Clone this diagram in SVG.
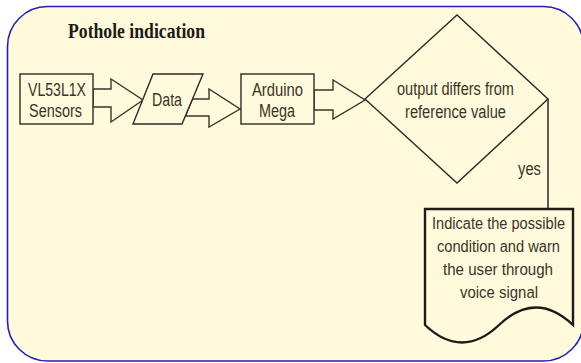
<svg xmlns="http://www.w3.org/2000/svg" width="581" height="363" viewBox="0 0 581 363">
<style>
.shape{fill:#fffadc;stroke:#2e2a24;stroke-width:1.4}
.doc{fill:#fffadc;stroke:#1e1a16;stroke-width:2.4}
.conn{fill:#fffadc;stroke:#3a342a;stroke-width:1.4;stroke-linejoin:miter}
.line{fill:none;stroke:#1a1a1a;stroke-width:1.4}
.t{font-family:"Liberation Sans",Arial,sans-serif;font-size:18px;fill:#3b3428}
.td{font-family:"Liberation Sans",Arial,sans-serif;font-size:16px;fill:#3b3428}
.title{font-family:"Liberation Serif","Times New Roman",serif;font-size:22px;font-weight:bold;fill:#1e1a16}
</style>
<rect x="0" y="0" width="581" height="363" fill="#ffffff"/>
<rect id="frame" x="7.5" y="6.5" width="576" height="354.5" rx="40" ry="40" fill="#fffadc" stroke="#2222b0" stroke-width="1.6"/>
<text class="title" x="68" y="38" textLength="137" lengthAdjust="spacingAndGlyphs">Pothole indication</text>
<g id="connectors">
<polygon class="conn" points="93,89 111,89 111,79 143,100 111,122 111,107 93,107"/>
<polygon class="conn" points="192.6,99 209,99 209,89 240,109 209,127 209,116 185.4,116"/>
<polygon class="conn" points="314,90 333,90 333,80 365,100 333,119 333,110 314,110"/>
<polyline class="line" points="548,99 548,209"/>
<text class="t" x="518" y="175" textLength="23" lengthAdjust="spacingAndGlyphs">yes</text>
</g>
<g id="sensors">
<rect class="shape" x="20" y="74" width="73" height="50"/>
<text class="t" x="28" y="96" textLength="58" lengthAdjust="spacingAndGlyphs">VL53L1X</text>
<text class="t" x="29" y="117" textLength="53" lengthAdjust="spacingAndGlyphs">Sensors</text>
</g>
<g id="data">
<polygon class="shape" points="153,74 203,74 182,124 133,124"/>
<text class="t" x="152" y="106" textLength="30" lengthAdjust="spacingAndGlyphs">Data</text>
</g>
<g id="arduino">
<rect class="shape" x="241" y="74" width="73" height="50"/>
<text class="t" x="252" y="96" textLength="51" lengthAdjust="spacingAndGlyphs">Arduino</text>
<text class="t" x="259" y="117" textLength="36" lengthAdjust="spacingAndGlyphs">Mega</text>
</g>
<g id="decision">
<polygon class="shape" points="365,99 457,15 548,99 457,183"/>
<text class="t" x="397" y="95" textLength="117" lengthAdjust="spacingAndGlyphs">output differs from</text>
<text class="t" x="405" y="118" textLength="101" lengthAdjust="spacingAndGlyphs">reference value</text>
</g>
<g id="warn">
<path class="doc" d="M425,209 H573 V325 Q536,290 499,325 Q462,360 425,325 Z"/>
<text class="td" x="432" y="229" textLength="133" lengthAdjust="spacingAndGlyphs">Indicate the possible</text>
<text class="td" x="437" y="252" textLength="123" lengthAdjust="spacingAndGlyphs">condition and warn</text>
<text class="td" x="443" y="275" textLength="110" lengthAdjust="spacingAndGlyphs">the user through</text>
<text class="td" x="460" y="298" textLength="78" lengthAdjust="spacingAndGlyphs">voice signal</text>
</g>
</svg>
